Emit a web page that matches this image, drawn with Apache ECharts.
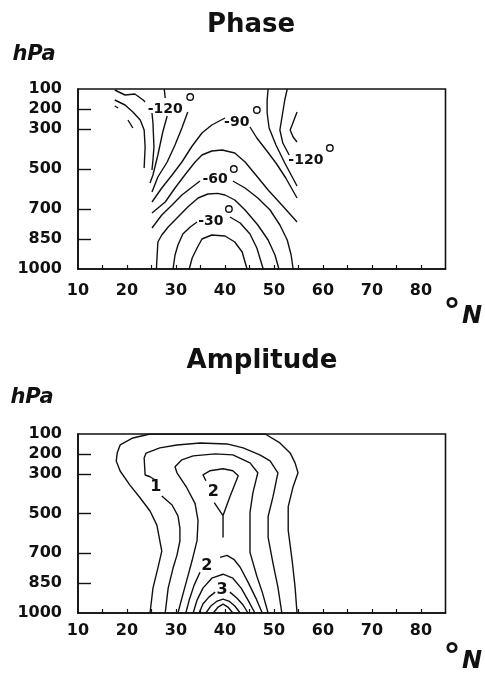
<!DOCTYPE html>
<html><head><meta charset="utf-8">
<script src="https://cdn.jsdelivr.net/npm/echarts@6/dist/echarts.min.js"></script>
<style>html,body{margin:0;padding:0;background:#fff}#c{width:485px;height:673px}</style>
</head><body><div id="c"></div>
<script>
// ---- axes ----
const latLabels = [10, 20, 30, 40, 50, 60, 70, 80];
const latTicks = [15, 20, 25, 30, 35, 40, 45, 50, 55, 60, 65, 70, 75, 80];
const pressureLabels = [100, 200, 300, 500, 700, 850, 1000];
const pressureTicks = [200, 300, 500, 700, 850];

// ---- Phase contours: [latitude °N, pressure hPa] ----
const phaseC165 = [[17.5,105],[19.6,130],[21.6,125],[23.3,155],[23.7,165]];
const phaseC150 = [[17.5,155],[19.6,180],[21.2,215],[22.7,255],[23.5,305],[23.7,390],[23.5,495]];
const phaseC180a = [[17.5,185],[18.2,195]];
const phaseC180b = [[20.2,255],[21.2,295]];
const phaseC135L = [[25.1,220],[25.3,270],[25.5,390],[25.3,455],[25.1,505]];
const phaseC120Ltop = [[27.6,100],[27.8,145]];
const phaseC120L = [[28.2,235],[27.3,315],[26.3,430],[25.3,530],[24.7,570]];
const phaseC105L = [[32.4,215],[31.2,295],[29.8,380],[28.2,465],[26.3,540],[25.1,615]];
const phaseC90L = [[25.1,665],[27.1,595],[29.2,530],[31.2,465],[33.3,385],[35.3,320],[37.3,280],[40.0,245]];
const phaseC90R = [[45.1,290],[46.5,345],[48.4,405],[50.4,470],[52.4,545],[54.7,645]];
const phaseC105R = [[48.8,100],[48.6,155],[48.6,220],[49.0,295],[50.4,380],[52.2,470],[54.7,585]];
const phaseC120R = [[52.7,100],[52.2,155],[51.8,215],[51.2,305],[51.8,370],[53.1,430]];
const phaseC135R = [[54.7,215],[53.7,280],[53.3,305],[53.9,340],[54.7,365]];
const phaseC75 = [[25.1,720],[27.8,665],[29.8,595],[31.8,530],[33.9,465],[35.3,430],[37.3,410],[39.4,405],[42.0,420],[44.1,465],[46.3,530],[48.8,605],[51.6,680],[54.7,765]];
const phaseC60L = [[25.1,795],[27.1,730],[29.2,680],[31.2,630],[33.3,590],[34.9,560]];
const phaseC60R = [[41.6,560],[44.1,595],[46.7,645],[49.2,705],[51.2,780],[52.7,855],[53.5,930],[53.9,1000]];
const phaseC45 = [[26.0,1000],[26.3,865],[27.1,830],[28.4,790],[30.4,740],[32.4,690],[34.5,645],[36.5,625],[38.5,622],[40.0,630],[42.0,655],[44.1,705],[46.7,780],[48.8,855],[50.2,930],[51.0,1000]];
const phaseC30L = [[29.4,1000],[29.8,930],[30.4,880],[31.4,825],[32.9,790],[34.3,765]];
const phaseC30R = [[41.0,740],[43.1,770],[45.1,825],[46.5,895],[47.8,1000]];
const phaseC15 = [[32.7,1000],[33.3,945],[34.3,895],[35.3,850],[37.3,830],[40.0,835],[42.0,865],[43.5,915],[44.5,1000]];
const phaseLabelText = ['-120', '-90', '-60', '-30', '-120'];
const phaseLabelAt = [[27.8,200],[42.4,265],[38.0,550],[37.1,760],[56.5,455]];
const phaseDegreeAt = [[32.9,140],[46.5,205],[41.8,500],[40.8,700],[61.4,395]];

// ---- Amplitude contours ----
const ampC05 = [[24.7,1000],[25.3,875],[26.3,774],[27.1,689],[26.1,558],[24.7,487],[22.7,422],[20.6,357],[18.6,286],[17.8,236],[18.0,196],[18.6,155],[21.2,120],[24.7,100],[48.2,100],[51.2,145],[53.3,195],[54.3,245],[54.9,295],[53.9,365],[52.9,465],[52.9,585],[53.7,735],[54.3,870],[54.7,1000]];
const ampC10Low = [[27.1,412],[29.2,457],[30.4,512],[30.8,573],[30.8,638],[30.2,709],[29.4,774],[28.4,875],[27.8,1000]];
const ampC10Up = [[25.7,330],[24.7,315],[23.7,306],[23.5,221],[23.9,196],[26.7,170],[30.2,155],[34.9,145],[40.4,150],[43.7,170],[47.1,205],[49.2,235],[50.8,295],[49.8,415],[48.8,515],[48.8,620],[49.8,750],[50.8,870],[51.6,1000]];
const ampC15 = [[30.4,1000],[31.2,925],[32.2,835],[33.3,735],[34.3,635],[34.5,535],[33.9,450],[32.2,370],[30.2,295],[29.8,265],[31.2,230],[33.5,210],[38.0,200],[41.6,205],[45.1,245],[46.7,295],[45.7,395],[45.1,495],[45.1,695],[46.5,815],[47.6,895],[48.8,1000]];
const ampC20Up = [[37.8,445],[39.6,510],[39.6,620],[39.6,510],[41.0,415],[42.7,310],[41.6,285],[39.6,275],[36.9,285],[35.5,305],[36.1,335]];
const ampC20Low = [[32.0,1000],[32.7,935],[33.7,860],[34.9,795]];
const ampC20LowR = [[39.0,720],[40.4,710],[41.8,730],[43.1,770],[44.7,845],[46.3,925],[47.6,1000]];
const ampC25 = [[33.5,1000],[34.3,935],[35.5,875],[37.3,825],[39.6,805],[41.6,825],[43.3,875],[44.7,935],[46.1,1000]];
const ampC30L = [[34.7,1000],[35.5,955],[36.7,920],[38.0,895]];
const ampC30R = [[41.0,895],[42.4,925],[43.7,960],[44.7,1000]];
const ampC35 = [[36.1,1000],[37.1,965],[38.4,940],[39.6,930],[40.8,940],[42.0,965],[43.1,1000]];
const ampC40 = [[37.6,1000],[38.6,970],[39.6,955],[40.6,970],[41.6,1000]];
const ampLabelText = ['1', '2', '2', '3'];
const ampLabelAt = [[25.9,367],[37.6,390],[36.3,765],[39.4,885]];

const INK = '#111111';
const FONT = '"DejaVu Sans", "Liberation Sans", sans-serif';

const phaseContours = [phaseC165, phaseC150, phaseC180a, phaseC180b, phaseC135L, phaseC120Ltop, phaseC120L,
  phaseC105L, phaseC90L, phaseC90R, phaseC105R, phaseC120R, phaseC135R, phaseC75, phaseC60L, phaseC60R,
  phaseC45, phaseC30L, phaseC30R, phaseC15];
const ampContours = [ampC05, ampC10Low, ampC10Up, ampC15, ampC20Up, ampC20Low, ampC20LowR, ampC25,
  ampC30L, ampC30R, ampC35, ampC40];

function contour(data, gi) {
  return { type: 'line', xAxisIndex: gi, yAxisIndex: gi, data: data, symbol: 'none', showSymbol: false,
    lineStyle: { color: INK, width: 1.4 }, silent: true, animation: false, z: 3, clip: true };
}
function labels(pos, text, gi, size) {
  return { type: 'scatter', xAxisIndex: gi, yAxisIndex: gi, symbolSize: 1, silent: true, animation: false, z: 5,
    itemStyle: { color: 'rgba(0,0,0,0)', opacity: 1 },
    label: { show: true, position: 'inside', formatter: p => p.name, color: INK, fontSize: size, fontWeight: 'bold', fontFamily: FONT },
    data: pos.map((p, i) => ({ value: p, name: text[i] })) };
}
function xAxisDef(gi, margin) {
  return { type: 'value', gridIndex: gi, min: 10, max: 85, interval: 5, splitLine: { show: false },
    axisLine: { show: true, lineStyle: { color: INK, width: 1.6 } },
    axisTick: { show: true, inside: true, length: 4, customValues: latTicks, lineStyle: { color: INK, width: 1.2 } },
    axisLabel: { customValues: latLabels, margin: margin, color: INK, fontSize: 16, fontWeight: 'bold', fontFamily: FONT,
      formatter: v => String(v) } };
}
function yAxisDef(gi) {
  return { type: 'value', gridIndex: gi, inverse: true, min: 100, max: 1000, interval: 50, splitLine: { show: false },
    axisLine: { show: true, lineStyle: { color: INK, width: 1.6 } },
    axisTick: { show: true, inside: true, length: 13, customValues: pressureTicks, lineStyle: { color: INK, width: 1.4 } },
    axisLabel: { customValues: pressureLabels, margin: 16, color: INK, fontSize: 16, fontWeight: 'bold', fontFamily: FONT,
      formatter: v => String(v) } };
}
function txt(x, y, text, font, align) {
  return { type: 'text', x: x, y: y, silent: true,
    style: { text: text, font: font, fill: INK, align: align || 'center', verticalAlign: 'middle' } };
}

const series = [];
phaseContours.forEach(d => series.push(contour(d, 0)));
ampContours.forEach(d => series.push(contour(d, 1)));
series.push(labels(phaseLabelAt, phaseLabelText, 0, 14));
series.push(labels(ampLabelAt, ampLabelText, 1, 16));
series.push({ type: 'scatter', xAxisIndex: 0, yAxisIndex: 0, symbol: 'circle', symbolSize: 6.5, silent: true, animation: false, z: 5,
  itemStyle: { color: 'rgba(0,0,0,0)', borderColor: INK, borderWidth: 1.4, opacity: 1 }, data: phaseDegreeAt });

const chart = echarts.init(document.getElementById('c'), null, { renderer: 'canvas' });
chart.setOption({
  backgroundColor: '#fff',
  animation: false,
  grid: [
    { left: 78, top: 89, width: 367.5, height: 180, show: true, borderColor: INK, borderWidth: 1.6, backgroundColor: 'rgba(0,0,0,0)' },
    { left: 78, top: 434, width: 367.5, height: 179, show: true, borderColor: INK, borderWidth: 1.6, backgroundColor: 'rgba(0,0,0,0)' }
  ],
  xAxis: [xAxisDef(0, 14), xAxisDef(1, 10)],
  yAxis: [yAxisDef(0), yAxisDef(1)],
  series: series,
  graphic: [
    txt(251, 25, 'Phase', 'bold 26px ' + FONT),
    txt(262, 361, 'Amplitude', 'bold 26px ' + FONT),
    txt(34, 55, 'hPa', 'italic bold 21px ' + FONT),
    txt(32, 398, 'hPa', 'italic bold 21px ' + FONT),
    txt(452, 313, '°', 'bold 34px ' + FONT),
    txt(472, 317, 'N', 'italic bold 24px ' + FONT),
    txt(452, 658, '°', 'bold 34px ' + FONT),
    txt(472, 662, 'N', 'italic bold 24px ' + FONT)
  ]
});
</script></body></html>
